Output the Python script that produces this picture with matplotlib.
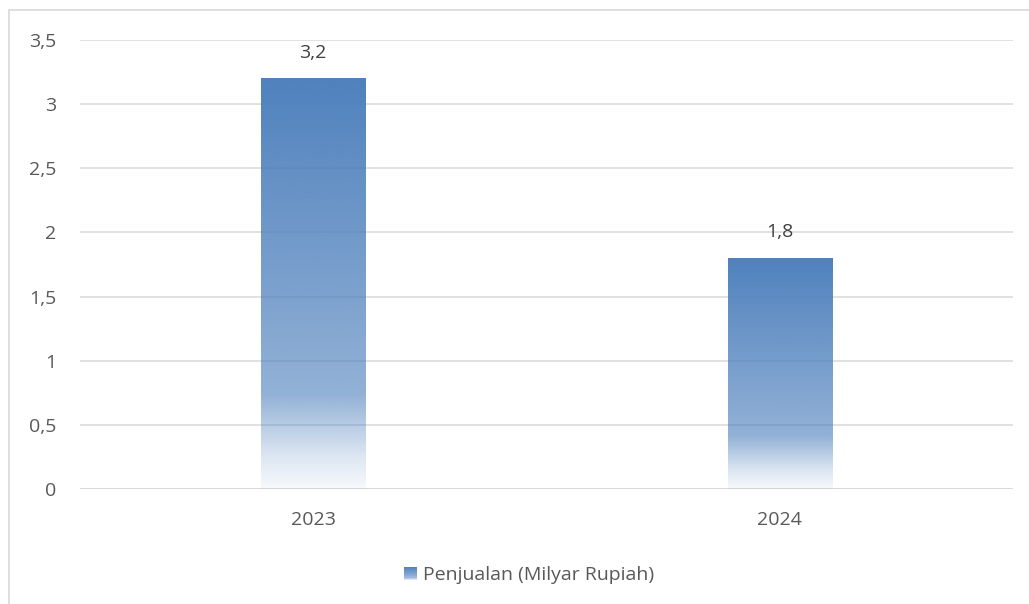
import matplotlib.pyplot as plt
import numpy as np
from matplotlib.colors import to_rgb
from matplotlib.legend_handler import HandlerBase
from matplotlib.patches import Rectangle
from matplotlib.ticker import FuncFormatter

years = ["2023", "2024"]
sales = [3.2, 1.8]
series_name = "Penjualan (Milyar Rupiah)"

bar_color = to_rgb("#4F81BD")
font = ["Open Sans", "DejaVu Sans"]
plt.rcParams["font.family"] = font


def gradient_rgba(n=256):
    # relative height 0 (bottom) .. 1 (top); fade near the base like Excel
    t = np.linspace(0, 1, n)
    alpha = np.interp(t, [0.0, 0.08, 0.23, 1.0], [0.05, 0.2, 0.62, 1.0])
    img = np.zeros((n, 1, 4))
    img[:, 0, :3] = bar_color
    img[:, 0, 3] = alpha
    return img


class GradientHandler(HandlerBase):
    def create_artists(self, legend, orig_handle, xdescent, ydescent,
                       width, height, fontsize, trans):
        size = height * 0.95
        x0 = -xdescent + (width - size)
        y0 = -ydescent + (height - size) / 2
        steps = 12
        artists = []
        for i in range(steps):
            t = (i + 0.5) / steps
            a = np.interp(t, [0.0, 0.23, 1.0], [0.1, 0.62, 1.0])
            r = Rectangle((x0, y0 + size * i / steps), size, size / steps,
                          facecolor=bar_color, alpha=a, edgecolor="none",
                          transform=trans)
            artists.append(r)
        return artists


figure = plt.figure(figsize=(10.29, 6.04), dpi=100)
figure.patches.append(
    Rectangle((9 / 1029, -0.1), 1.2, 1 - 10 / 604 + 0.1,
              transform=figure.transFigure, facecolor="none",
              edgecolor="#D9D9D9", linewidth=1.2)
)

axis = figure.add_axes([80 / 1029, 115 / 604, 933 / 1029, 449 / 604])
axis.set_xlim(-0.5, 1.5)
axis.set_ylim(0, 3.5)
axis.set_yticks(np.arange(0, 3.51, 0.5))
axis.set_xticks(range(len(years)))
axis.set_xticklabels(years)

axis.grid(axis="y", color="#D9D9D9", linewidth=1.1)
axis.set_axisbelow(True)
for side in ["top", "right", "left", "bottom"]:
    axis.spines[side].set_visible(False)
axis.axhline(0, color="#D9D9D9", linewidth=1.3, zorder=1)

axis.tick_params(axis="both", length=0, labelsize=14, colors="#595959")
axis.tick_params(axis="y", pad=17)
axis.tick_params(axis="x", pad=16)
axis.yaxis.set_major_formatter(
    FuncFormatter(lambda v, _: f"{v:g}".replace(".", ","))
)

bar_width = 0.223
img = gradient_rgba()
for i, value in enumerate(sales):
    axis.imshow(img, extent=(i - bar_width / 2, i + bar_width / 2, 0, value),
                origin="lower", aspect="auto", interpolation="bilinear",
                zorder=2)
    axis.annotate(f"{value:g}".replace(".", ","), (i, value),
                  xytext=(0, 18.5), textcoords="offset points",
                  ha="center", va="center", fontsize=14, color="#404040")
axis.set_xlim(-0.5, 1.5)
axis.set_ylim(0, 3.5)

proxy = Rectangle((0, 0), 1, 1)
figure.legend([proxy], [series_name], handler_map={Rectangle: GradientHandler()},
              loc="center", bbox_to_anchor=(529 / 1029, 1 - 575 / 604),
              frameon=False, fontsize=14, labelcolor="#595959",
              handlelength=0.7, handletextpad=0.3)

figure.savefig("out.png", dpi=100)
plt.close(figure)
